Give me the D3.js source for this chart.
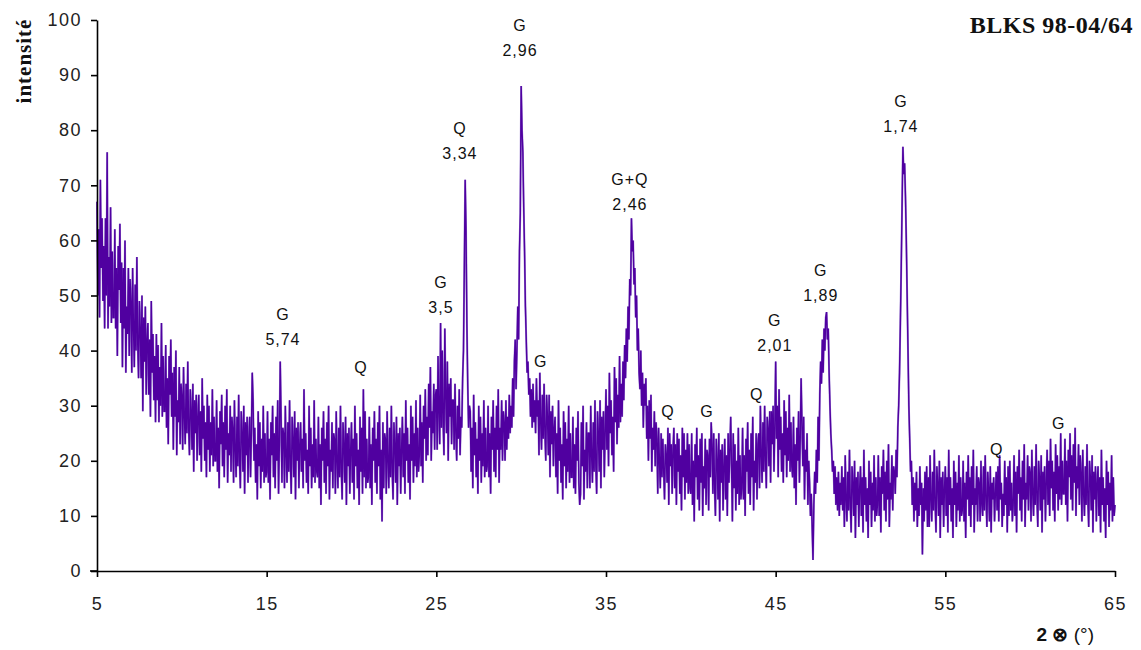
<!DOCTYPE html>
<html><head><meta charset="utf-8">
<script src="https://cdn.jsdelivr.net/npm/d3@7"></script>
<style>body{margin:0;background:#fff;}svg{display:block;}</style>
</head><body>
<script>
// 2-theta start and step of the scan
const thetaStart = 5, thetaStep = 0.05;
// intensity, one row per degree (x.00 ... x.95)
const intensity = [
67,50,62,46,71,55,64,49,59,44,64,50,76,44,57,48,66,45,58,46,
46,62,44,55,39,59,51,63,45,56,37,55,44,60,36,48,43,55,39,53,
49,36,55,44,37,52,40,57,41,35,49,44,35,50,29,46,38,48,32,42,
45,32,42,28,49,36,43,31,39,27,43,31,41,27,37,30,45,28,39,29,
29,41,26,35,23,39,32,42,28,36,22,37,28,40,21,31,27,37,23,34,
32,22,37,28,23,34,25,38,26,21,33,29,22,34,18,31,25,32,20,28,
32,21,29,18,35,24,30,20,27,17,32,22,30,18,27,21,33,19,28,20,
20,31,18,26,15,29,23,32,19,27,17,30,22,33,16,25,21,30,18,28,
26,16,31,22,17,28,19,32,20,15,29,25,18,30,14,27,21,28,16,24,
28,17,25,36,31,20,26,16,23,13,29,19,27,15,24,18,30,16,25,17,
18,29,16,24,13,27,21,30,17,25,15,28,20,31,14,23,38,28,16,26,
25,15,30,21,16,27,18,31,19,14,28,24,17,29,13,26,20,27,15,23,
27,18,24,15,33,20,25,16,22,14,30,19,26,15,23,17,31,16,24,18,
17,28,15,23,12,26,20,29,16,24,14,27,19,30,13,22,18,27,15,25,
24,14,29,20,15,26,17,30,18,13,27,23,16,28,12,25,19,26,14,22,
27,16,24,13,30,19,25,15,22,12,28,18,26,14,33,17,29,15,24,16,
17,28,15,23,12,26,20,29,16,24,14,27,19,30,13,22,9,27,15,25,
24,14,29,20,15,26,17,30,18,13,27,23,16,28,12,25,19,26,14,22,
28,17,25,14,31,20,26,16,23,13,30,20,28,16,25,19,31,17,26,18,
21,32,19,27,16,30,24,33,20,28,21,34,26,37,20,29,25,34,22,32,
33,22,39,29,23,45,26,40,27,21,44,32,25,38,20,34,28,35,23,31,
31,22,34,25,20,30,24,33,21,28,26,35,40,55,71,62,45,34,26,30,
29,18,26,15,32,21,27,17,24,14,30,20,28,16,25,19,31,17,26,18,
19,30,17,25,14,28,22,31,18,26,17,30,22,33,16,26,22,31,20,29,
27,20,31,22,28,24,32,25,30,26,35,28,38,42,33,40,48,42,58,65,
88,80,76,66,58,48,42,36,38,32,35,28,33,26,34,27,31,25,35,28,
31,21,36,27,22,32,24,34,25,20,32,28,21,32,17,29,23,30,19,26,
28,17,25,14,31,20,26,16,23,13,29,19,27,15,24,18,30,16,25,17,
17,28,15,23,14,26,20,29,16,12,14,27,19,30,13,22,18,27,15,25,
25,15,30,21,16,27,18,31,19,14,29,25,18,31,15,28,22,29,17,25,
33,22,30,19,36,25,31,21,28,18,37,27,35,23,32,26,39,27,34,28,
38,31,41,35,44,38,48,42,53,50,64,58,60,52,55,46,50,40,44,36,
33,40,30,36,26,34,30,35,24,30,20,31,24,32,18,26,22,29,19,27,
24,14,26,20,15,25,17,24,18,13,23,21,16,26,12,25,19,23,14,22,
26,15,23,12,25,18,24,14,21,11,26,17,25,13,22,16,25,14,23,15,
14,25,12,20,9,23,17,26,13,21,11,24,16,25,10,19,15,24,12,22,
21,11,24,17,27,23,14,25,15,10,24,20,13,25,9,22,16,23,11,19,
24,13,21,10,25,16,22,28,19,9,25,15,23,11,20,14,26,12,21,13,
15,26,13,21,10,24,18,27,14,22,12,25,17,28,11,20,16,25,13,23,
25,15,30,21,16,27,18,30,20,15,28,26,19,29,16,29,23,30,18,26,
38,24,30,17,33,22,28,18,25,16,31,21,29,17,26,20,32,18,27,19,
17,28,15,23,12,26,20,29,16,24,35,27,19,28,13,22,18,25,12,20,
16,10,14,8,2,12,18,14,22,16,28,20,32,38,34,42,36,44,40,46,
47,42,44,36,30,25,22,18,20,14,19,12,17,11,18,10,16,12,19,11,
17,8,21,13,9,18,11,22,12,7,19,16,10,20,6,17,12,18,8,15,
19,10,17,7,22,12,17,9,15,6,20,12,18,8,16,11,21,9,17,10,
12,21,10,17,7,19,14,22,11,18,9,20,13,23,8,16,13,21,11,19,
18,14,22,17,26,30,36,45,55,66,77,72,74,68,60,50,40,30,24,18,
20,12,17,9,16,11,18,8,15,10,19,12,16,3,15,9,18,11,19,8,
17,8,21,13,9,18,11,22,12,7,19,16,10,20,6,17,12,18,8,15,
19,10,17,7,22,12,17,9,15,6,20,12,18,8,16,11,21,9,17,10,
11,20,9,16,6,18,13,21,10,17,8,19,12,22,7,15,12,19,9,17,
16,9,20,12,10,19,11,21,13,8,18,15,9,19,7,16,13,17,9,14,
18,11,19,9,21,13,16,8,14,10,20,12,17,7,19,10,20,11,16,9,
12,21,10,18,7,19,14,22,11,17,9,20,13,23,8,16,13,21,11,19,
18,9,22,14,10,19,12,23,13,8,20,17,11,21,7,18,13,19,9,16,
22,12,20,10,24,15,20,11,18,9,23,14,21,11,19,13,25,12,20,14,
14,24,12,20,9,22,17,25,13,21,11,23,16,26,10,19,15,23,12,21,
18,9,22,14,10,19,12,23,13,8,20,17,11,21,7,18,13,19,9,16,
19,10,17,7,22,12,17,9,15,6,20,12,18,8,16,11,21,9,17,10,
12
];
const xTicks = [5,15,25,35,45,55,65];
const yTicks = [0,10,20,30,40,50,60,70,80,90,100];
// peak annotations: phase, d-spacing (may be empty), 2-theta, intensity of label
const peakPhase = ["G","Q","G","Q","G","G","G+Q","Q","G","Q","G","G","G","Q","G"];
const peakD     = ["5,74","","3,5","3,34","2,96","","2,46","","","","2,01","1,89","1,74","",""];
const peakTheta = [15.96,20.56,25.27,26.39,29.93,31.16,36.41,38.65,40.95,43.89,44.95,47.66,52.38,58.03,61.69];
const peakLabelY= [46.6,37.0,52.3,80.4,99.1,38.1,71.1,28.9,28.9,32.1,45.4,54.6,85.3,22.1,26.7];
const title = "BLKS 98-04/64";
const yTitle = "intensité";

const W = 1141, H = 650;
const svg = d3.select("body").append("svg").attr("width", W).attr("height", H);
const x = d3.scaleLinear().domain([5,65]).range([97,1115]);
const y = d3.scaleLinear().domain([0,100]).range([571,20]);

const data = intensity.map((v,i)=>({t: thetaStart + i*thetaStep, v}));
const lineGen = d3.line().x(d=>x(d.t)).y(d=>y(d.v));

svg.append("path").datum(data)
  .attr("fill","none").attr("stroke","#9f86d4").attr("stroke-width",2.0)
  .attr("d", lineGen);
svg.append("path").datum(data)
  .attr("fill","none").attr("stroke","#5000a0").attr("stroke-width",1.4)
  .attr("d", lineGen);

// axes
const xAxis = svg.append("g").attr("transform","translate(0,571)")
  .call(d3.axisBottom(x).tickValues(xTicks).tickSize(6).tickPadding(20).tickSizeOuter(0));
const yAxis = svg.append("g").attr("transform","translate(97,0)")
  .call(d3.axisLeft(y).tickValues(yTicks).tickSize(6).tickPadding(9).tickSizeOuter(0));
[xAxis,yAxis].forEach(g=>{
  g.select(".domain").attr("stroke","#000").attr("stroke-width",1.6);
  g.selectAll(".tick line").attr("stroke","#000").attr("stroke-width",1.6);
  g.selectAll(".tick text").attr("fill","#222").style("font-family","Liberation Sans, Arial, sans-serif")
    .style("font-size","18px").style("letter-spacing","1.5px");
});
// x axis line extends a bit left of the y axis
svg.append("line").attr("x1",90).attr("x2",97).attr("y1",571).attr("y2",571).attr("stroke","#000").attr("stroke-width",1.6);

// annotations
const ann = svg.append("g").style("font-family","Liberation Sans, Arial, sans-serif").style("font-size","16px")
  .style("letter-spacing","1px").attr("fill","#111").attr("text-anchor","middle");
peakPhase.forEach((p,i)=>{
  const cx = x(peakTheta[i]), cy = y(peakLabelY[i]);
  ann.append("text").attr("x",cx).attr("y",cy).attr("dy","0.35em").text(p);
  if (peakD[i]) ann.append("text").attr("x",cx).attr("y",cy+25).attr("dy","0.35em").text(peakD[i]);
});

// title
svg.append("text").attr("x",1133).attr("y",25).attr("dy","0.35em").attr("text-anchor","end")
  .style("font-family","Liberation Serif, Times New Roman, serif").style("font-weight","bold").style("font-size","24px")
  .style("letter-spacing","0.5px").attr("fill","#111").text(title);
// y title
svg.append("text").attr("transform","translate(24,61) rotate(-90)").attr("dy","0.35em").attr("text-anchor","middle")
  .style("font-family","Liberation Serif, Times New Roman, serif").style("font-weight","bold").style("font-size","21px")
  .style("letter-spacing","1px").attr("fill","#111").text(yTitle);
// x title
const xt = svg.append("text").attr("x",1094).attr("y",634).attr("dy","0.35em").attr("text-anchor","end")
  .style("font-family","Liberation Sans, Arial, sans-serif").style("font-size","19px").attr("fill","#111");
xt.append("tspan").style("font-weight","bold").text("2 ⊗ ");
xt.append("tspan").text("(°)");
</script>
</body></html>
